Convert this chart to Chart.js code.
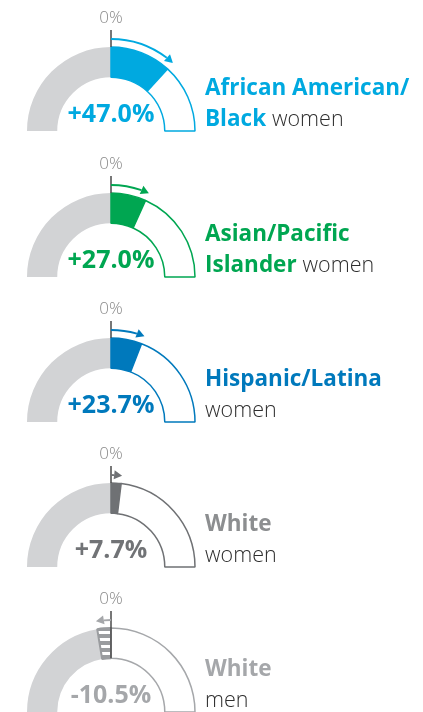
<!DOCTYPE html>
<html>
<head>
<meta charset="utf-8">
<script src="https://cdn.jsdelivr.net/npm/chart.js@4/dist/chart.umd.min.js"></script>
<style>
  html, body { margin:0; padding:0; background:#fff; overflow:hidden; }
  body { width:423px; height:712px; position:relative; font-family:'Open Sans', sans-serif; }
  canvas { position:absolute; }
  .zero { position:absolute; width:60px; text-align:center; font-size:17px; line-height:17px; font-weight:300; color:#8a8a8a; }
  .value { position:absolute; width:160px; text-align:center; font-size:25px; line-height:25px; font-weight:700; }
  .label { position:absolute; font-size:22.5px; line-height:31px; white-space:nowrap; color:#333; }
  .label b { font-weight:700; }
  .label span { font-weight:300; font-size:21.5px; color:#2e2e2e; }
</style>
</head>
<body>
<script>
// change in share, percent (right quarter of the gauge = 100%)
const changes = [47.0, 27.0, 23.7, 7.7, -10.5];
const valueLabels = ['+47.0%', '+27.0%', '+23.7%', '+7.7%', '-10.5%'];
const boldLine1 = ['African American/', 'Asian/Pacific', 'Hispanic/Latina', 'White', 'White'];
const boldLine2 = ['Black', 'Islander', '', '', ''];
const plainWords = ['women', 'women', 'women', 'women', 'men'];
const zeroLabel = '0%';

const gaugeColors = ['#00A9E0', '#00A651', '#0079BC', '#6F7174', '#A5A7AA'];
const labelColors = ['#00A9E0', '#00A651', '#0079BC', '#8C8E90', '#A5A7AA'];
const trackGrey = '#D2D3D5';
const hatchGrey = '#9A9C9F';

const CX = 111;
const centersY = [131, 277, 422, 567, 712];
const R = 84;
const W = 230, H = 170;

function stripes(color){
  const c = document.createElement('canvas');
  c.width = 8; c.height = 7;
  const g = c.getContext('2d');
  g.fillStyle = color; g.fillRect(0, 0, 8, 7);
  g.fillStyle = '#fff'; g.fillRect(0, 4, 8, 3);
  return g.createPattern(c, 'repeat');
}

const gaugeMarks = {
  id: 'gaugeMarks',
  afterDatasetsDraw(chart, args, opts){
    const arc = chart.getDatasetMeta(0).data[1];
    const {x, y, outerRadius, innerRadius, startAngle, endAngle} =
      arc.getProps(['x', 'y', 'outerRadius', 'innerRadius', 'startAngle', 'endAngle'], true);
    const ctx = chart.ctx;
    const top = -Math.PI / 2;
    const positive = opts.value >= 0;
    const s = positive ? 1 : -1;
    const a = positive ? endAngle : startAngle;
    const ar = outerRadius + 8;
    const hl = 8;

    ctx.save();
    // 0% tick
    ctx.strokeStyle = '#4a4a4a';
    ctx.lineWidth = 1.5;
    ctx.beginPath();
    ctx.moveTo(x, y - (positive ? outerRadius : innerRadius));
    ctx.lineTo(x, y - outerRadius - 17);
    ctx.stroke();

    // arrow along the arc
    ctx.strokeStyle = opts.color;
    ctx.fillStyle = opts.color;
    ctx.lineWidth = 1.8;
    ctx.beginPath();
    ctx.arc(x, y, ar, top, a - s * hl / ar, !positive);
    ctx.stroke();
    const px = x + ar * Math.cos(a), py = y + ar * Math.sin(a);
    const tx = s * -Math.sin(a), ty = s * Math.cos(a);
    const nx = Math.cos(a), ny = Math.sin(a);
    const bx = px - tx * hl, by = py - ty * hl;
    ctx.beginPath();
    ctx.moveTo(px, py);
    ctx.lineTo(bx + nx * 4.5, by + ny * 4.5);
    ctx.lineTo(bx - nx * 4.5, by - ny * 4.5);
    ctx.closePath();
    ctx.fill();
    ctx.restore();
  }
};

function addDiv(cls, left, top, html, color){
  const d = document.createElement('div');
  d.className = cls;
  d.style.left = left + 'px';
  d.style.top = top + 'px';
  if(color) d.style.color = color;
  d.innerHTML = html;
  document.body.appendChild(d);
}

changes.forEach((v, i) => {
  const cy = centersY[i];
  const color = gaugeColors[i];
  const canvas = document.createElement('canvas');
  canvas.width = W; canvas.height = H;
  canvas.style.left = (CX - W / 2) + 'px';
  canvas.style.top = (cy - (H / 2 + R / 2)) + 'px';
  document.body.appendChild(canvas);

  const positive = v >= 0;
  const data = positive ? [100, v, 100 - v] : [100 + v, -v, 100];
  const fill = positive ? color : stripes(hatchGrey);

  new Chart(canvas, {
    type: 'doughnut',
    data: {
      labels: ['base', 'change', 'rest'],
      datasets: [{
        data,
        backgroundColor: [trackGrey, fill, '#ffffff'],
        borderColor: [trackGrey, positive ? color : hatchGrey, color],
        borderWidth: [0, positive ? 1.5 : 2, 1.5]
      }]
    },
    options: {
      responsive: false,
      animation: false,
      events: [],
      rotation: -90,
      circumference: 180,
      radius: R,
      cutout: '64%',
      plugins: {
        legend: { display: false },
        tooltip: { enabled: false },
        gaugeMarks: { value: v, color }
      }
    },
    plugins: [gaugeMarks]
  });

  addDiv('zero', CX - 30, cy - 123, zeroLabel);
  addDiv('value', CX - 80, cy - 31, valueLabels[i], color === '#6F7174' ? '#717376' : color);

  const line2 = boldLine2[i]
    ? `<b>${boldLine2[i]}</b> <span>${plainWords[i]}</span>`
    : `<span>${plainWords[i]}</span>`;
  addDiv('label', 205, cy - 60,
    `<b style="color:${labelColors[i]}">${boldLine1[i]}</b><br>` +
    line2.replace('<b>', `<b style="color:${labelColors[i]}">`));
});
</script>
</body>
</html>
